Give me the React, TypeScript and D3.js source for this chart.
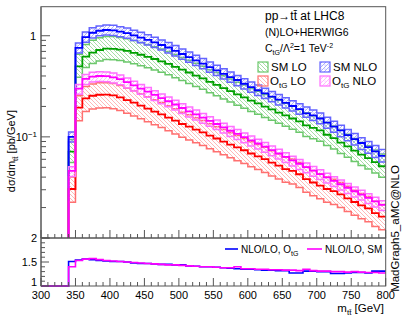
import React from 'react';
import * as d3 from 'd3';

// bin low edges (GeV), 10 GeV bins from 300 to 800
const binLow = [300,310,320,330,340,350,360,370,380,390,400,410,420,430,440,450,460,470,480,490,500,510,520,530,540,550,560,570,580,590,600,610,620,630,640,650,660,670,680,690,700,710,720,730,740,750,760,770,780,790];
const xMax = 800;

const smNlo = [0,0,0,0, 0.10,0.76,0.97,1.07,1.12,1.14,1.13,1.10,1.06,1.01, 0.96,0.91,0.86,0.81,0.765,0.71,0.66,0.615,0.57,0.53, 0.49,0.455,0.42,0.39,0.365,0.335,0.31,0.289,0.269,0.25, 0.233,0.217,0.202,0.188,0.171,0.163,0.152,0.138,0.126,0.116, 0.104,0.095,0.087,0.079,0.072,0.065];
const smNloHi = [0,0,0,0, 0.112,0.85,1.09,1.20,1.25,1.28,1.27,1.23,1.19,1.13, 1.08,1.02,0.965,0.91,0.855,0.80,0.74,0.69,0.64,0.595, 0.55,0.51,0.472,0.438,0.404,0.376,0.348,0.325,0.302,0.281, 0.262,0.244,0.227,0.212,0.197,0.184,0.172,0.156,0.143,0.13, 0.118,0.108,0.098,0.09,0.082,0.075];
const smNloLo = [0,0,0,0, 0.089,0.676,0.863,0.952,0.997,1.015,1.006,0.979,0.943,0.899, 0.854,0.81,0.765,0.721,0.676,0.632,0.587,0.547,0.507,0.472, 0.436,0.405,0.374,0.347,0.32,0.298,0.276,0.257,0.239,0.2225, 0.207,0.193,0.18,0.167,0.156,0.145,0.135,0.122,0.111,0.1005, 0.0915,0.083,0.075,0.069,0.0625,0.0565];

const smLo = [0,0,0,0, 0.0714,0.497,0.622,0.682,0.723,0.745,0.743,0.728,0.707,0.678, 0.649,0.619,0.589,0.559,0.528,0.493,0.462,0.433,0.404,0.379, 0.35,0.327,0.304,0.283,0.263,0.246,0.228,0.214,0.199,0.187, 0.174,0.163,0.152,0.142,0.130,0.123,0.116,0.105,0.097,0.0877, 0.0806,0.0731,0.0667,0.0617,0.0563,0.0512];
const smLoHi = [0,0,0,0, 0.094,0.656,0.821,0.90,0.954,0.983,0.981,0.961,0.933,0.895, 0.857,0.817,0.777,0.738,0.697,0.651,0.61,0.572,0.533,0.50, 0.462,0.432,0.401,0.374,0.347,0.325,0.301,0.282,0.263,0.247, 0.23,0.215,0.201,0.187,0.172,0.162,0.153,0.139,0.128,0.116, 0.106,0.0965,0.088,0.0815,0.0743,0.0676];
const smLoLo = [0,0,0,0, 0.0557,0.388,0.485,0.532,0.564,0.581,0.58,0.568,0.551,0.529, 0.506,0.483,0.459,0.436,0.412,0.385,0.36,0.338,0.315,0.296, 0.273,0.255,0.237,0.221,0.205,0.192,0.178,0.167,0.155,0.146, 0.136,0.127,0.119,0.111,0.101,0.096,0.0905,0.082,0.0757,0.0684, 0.0629,0.057,0.052,0.0481,0.0439,0.0399];

const otgNlo = [0,0,0,0, 0.046,0.30,0.375,0.395,0.40,0.398,0.388,0.372,0.347,0.323, 0.30,0.28,0.26,0.242,0.225,0.209,0.193,0.179,0.167,0.155, 0.144,0.134,0.124,0.115,0.107,0.0995,0.0925,0.086,0.080,0.074, 0.0685,0.0633,0.0586,0.0542,0.0501,0.0464,0.0429,0.0397,0.0367,0.034, 0.0314,0.029,0.0269,0.0249,0.023,0.0213];
const otgNloHi = [0,0,0,0, 0.0506,0.33,0.413,0.435,0.44,0.438,0.427,0.409,0.382,0.355, 0.33,0.308,0.286,0.266,0.2475,0.23,0.212,0.197,0.184,0.1705, 0.158,0.147,0.136,0.1265,0.118,0.109,0.102,0.0946,0.088,0.0814, 0.0754,0.0696,0.0645,0.0596,0.0551,0.051,0.0472,0.0437,0.0404,0.0374, 0.0345,0.0319,0.0296,0.0274,0.0253,0.0234];
const otgNloLo = [0,0,0,0, 0.0405,0.264,0.33,0.348,0.352,0.35,0.341,0.327,0.305,0.284, 0.264,0.246,0.229,0.213,0.198,0.184,0.17,0.1575,0.147,0.136, 0.127,0.118,0.109,0.101,0.094,0.0876,0.0814,0.0757,0.0704,0.0651, 0.0603,0.0557,0.0516,0.0477,0.0441,0.0408,0.0378,0.0349,0.0323,0.0299, 0.0276,0.0255,0.0237,0.0219,0.0202,0.0187];

const otgLo = [0,0,0,0, 0.0305,0.195,0.240,0.255,0.261,0.262,0.257,0.246,0.231,0.218, 0.204,0.190,0.178,0.167,0.155,0.145,0.134,0.126,0.118,0.111, 0.103,0.0964,0.0899,0.0839,0.0787,0.0737,0.0685,0.0642,0.0602,0.0556, 0.0519,0.048,0.0461,0.0427,0.0382,0.0354,0.033,0.0305,0.0291,0.027, 0.0247,0.0227,0.021,0.0196,0.0176,0.0163];
const otgLoHi = [0,0,0,0, 0.040,0.255,0.314,0.334,0.342,0.343,0.337,0.322,0.303,0.286, 0.267,0.249,0.233,0.219,0.203,0.19,0.1755,0.165,0.1545,0.145, 0.135,0.126,0.118,0.11,0.103,0.0965,0.0897,0.0841,0.0789,0.0728, 0.068,0.0629,0.0604,0.0559,0.05,0.0464,0.0432,0.04,0.0381,0.0354, 0.0324,0.0297,0.0275,0.0257,0.0231,0.0214];
const otgLoLo = [0,0,0,0, 0.0226,0.144,0.178,0.189,0.193,0.194,0.19,0.182,0.171,0.161, 0.151,0.141,0.132,0.124,0.115,0.107,0.099,0.0932,0.0873,0.0821, 0.0762,0.0713,0.0665,0.0621,0.0582,0.0545,0.0507,0.0475,0.0445,0.0411, 0.0384,0.0355,0.0341,0.0316,0.0283,0.0262,0.0244,0.0226,0.0215,0.02, 0.0183,0.0168,0.0155,0.0145,0.013,0.0121];

const ratioOtg = [1,1,1,1, 1.51,1.54,1.56,1.55,1.53,1.52,1.51,1.51,1.50,1.48, 1.47,1.47,1.46,1.45,1.45,1.44,1.44,1.42,1.41,1.40, 1.40,1.39,1.38,1.37,1.36,1.35,1.35,1.34,1.33,1.33, 1.32,1.32,1.27,1.27,1.31,1.31,1.30,1.30,1.26,1.26, 1.27,1.28,1.28,1.27,1.31,1.31];
const ratioSm = [1,1,1,1, 1.40,1.53,1.56,1.57,1.55,1.53,1.52,1.51,1.50,1.49, 1.48,1.47,1.46,1.45,1.44,1.44,1.43,1.42,1.41,1.40, 1.40,1.39,1.38,1.38,1.40,1.36,1.36,1.35,1.35,1.34, 1.34,1.33,1.33,1.32,1.35,1.32,1.31,1.31,1.30,1.30, 1.29,1.30,1.29,1.28,1.28,1.27];

const xTicks = [300,350,400,450,500,550,600,650,700,750,800];
const ratioTicks = [1,1.5,2];

const W = 411, H = 318;
const FL = 41, FR = 385.7, FT = 6.7, FB = 238, RB = 286;
const FONT = "'Liberation Sans', Arial, Helvetica, sans-serif";

const series = [
  { key: 'smlo', c: smLo, hi: smLoHi, lo: smLoLo, line: '#00a000', edge: '#6cc86c', pat: 'patLOg' },
  { key: 'smnlo', c: smNlo, hi: smNloHi, lo: smNloLo, line: '#0000ff', edge: '#6464ff', pat: 'patNLOb' },
  { key: 'otglo', c: otgLo, hi: otgLoHi, lo: otgLoLo, line: '#ff0000', edge: '#ff7070', pat: 'patLOr' },
  { key: 'otgnlo', c: otgNlo, hi: otgNloHi, lo: otgNloLo, line: '#ff00ff', edge: '#ff70ff', pat: 'patNLOm' },
];

export default function App() {
  const edges = [...binLow, xMax];
  const x = d3.scaleLinear().domain([300, 800]).range([FL, FR]);
  const y = d3.scaleLog().domain([0.01, 1.937]).range([FB, FT]);
  const yr = d3.scaleLinear().domain([1, 2]).range([RB, FB]);
  const ym = (v: number) => (v > 0 ? y(v) : FB + 3);

  const stepPath = (vals: number[], ys: (v: number) => number) => {
    let d = `M${x(edges[0])},${ys(vals[0])}`;
    for (let i = 0; i < vals.length; i++) {
      d += `H${x(edges[i + 1])}`;
      if (i + 1 < vals.length) d += `V${ys(vals[i + 1])}`;
    }
    return d;
  };
  const bandPath = (hi: number[], lo: number[]) => {
    const n = hi.length;
    let d = `M${x(edges[0])},${ym(hi[0])}`;
    for (let i = 0; i < n; i++) {
      d += `H${x(edges[i + 1])}`;
      if (i + 1 < n) d += `V${ym(hi[i + 1])}`;
    }
    d += `V${ym(lo[n - 1])}`;
    for (let i = n - 1; i >= 0; i--) {
      d += `H${x(edges[i])}`;
      if (i > 0) d += `V${ym(lo[i - 1])}`;
    }
    return d + 'Z';
  };

  const xMinor = d3.range(300, 801, 10);
  const yMajor = [0.01, 0.1, 1];
  const yMinor: number[] = [];
  [0.01, 0.1, 1].forEach((dec) => {
    for (let k = 2; k <= 9; k++) if (dec * k < 1.937) yMinor.push(dec * k);
  });
  const rMinor = d3.range(1, 2.001, 0.1);
  const axisCol = '#555';

  const legendRow1 = 67, legendRow2 = 81;

  return (
    <svg width={W} height={H} style={{ position: 'absolute', left: 0, top: 0, background: '#fff' }} fontFamily={FONT}>
      <defs>
        <clipPath id="clipMain"><rect x={FL} y={FT} width={FR - FL} height={FB - FT} /></clipPath>
        <clipPath id="clipRatio"><rect x={FL} y={FB} width={FR - FL} height={RB - FB + 1} /></clipPath>
        <pattern id="patLOg" width="4" height="4" patternUnits="userSpaceOnUse">
          <path d="M-1,-1L5,5M-1,3L1,5M3,-1L5,1" stroke="#7fcf7f" strokeWidth="0.7" />
        </pattern>
        <pattern id="patLOr" width="4" height="4" patternUnits="userSpaceOnUse">
          <path d="M-1,-1L5,5M-1,3L1,5M3,-1L5,1" stroke="#ff9a9a" strokeWidth="0.7" />
        </pattern>
        <pattern id="patNLOb" width="4" height="4" patternUnits="userSpaceOnUse">
          <path d="M-1,5L5,-1M-1,1L1,-1M3,5L5,3" stroke="#8a8aff" strokeWidth="0.7" />
          <circle cx="1" cy="1" r="0.5" fill="#8a8aff" />
        </pattern>
        <pattern id="patNLOm" width="4" height="4" patternUnits="userSpaceOnUse">
          <path d="M-1,5L5,-1M-1,1L1,-1M3,5L5,3" stroke="#ff9aff" strokeWidth="0.7" />
          <circle cx="1" cy="1" r="0.5" fill="#ff9aff" />
        </pattern>
      </defs>

      {/* main histograms */}
      <g clipPath="url(#clipMain)">
        {series.map((s) => (
          <g key={s.key}>
            <path d={bandPath(s.hi, s.lo)} fill={`url(#${s.pat})`} stroke="none" />
            <path d={stepPath(s.hi, ym)} fill="none" stroke={s.edge} strokeWidth={1.5} />
            <path d={stepPath(s.lo, ym)} fill="none" stroke={s.edge} strokeWidth={1.5} />
            <path d={stepPath(s.c, ym)} fill="none" stroke={s.line} strokeWidth={1.8} />
          </g>
        ))}
      </g>

      {/* ratio histograms */}
      <g clipPath="url(#clipRatio)">
        <path d={stepPath(ratioOtg, yr)} fill="none" stroke="#0000ff" strokeWidth={1.6} />
        <path d={stepPath(ratioSm, yr)} fill="none" stroke="#ff00ff" strokeWidth={1.6} />
      </g>

      {/* frames */}
      <rect x={FL} y={FT} width={FR - FL} height={FB - FT} fill="none" stroke={axisCol} strokeWidth={1} />
      <rect x={FL} y={FB} width={FR - FL} height={RB - FB} fill="none" stroke={axisCol} strokeWidth={1} />
      <line x1={FL} x2={FL} y1={FT} y2={RB} stroke="#777" strokeWidth={1.6} />

      {/* main x ticks */}
      {xMinor.map((v) => {
        const major = v % 50 === 0;
        return (
          <g key={'xm' + v}>
            <line x1={x(v)} x2={x(v)} y1={FB} y2={FB - (major ? 8 : 4)} stroke={axisCol} strokeWidth={1} />
            <line x1={x(v)} x2={x(v)} y1={RB} y2={RB - (major ? 8 : 4)} stroke={axisCol} strokeWidth={1} />
          </g>
        );
      })}
      {/* main y ticks */}
      {yMajor.map((v) => (
        <line key={'ya' + v} x1={FL} x2={FL + 9} y1={y(v)} y2={y(v)} stroke={axisCol} strokeWidth={1} />
      ))}
      {yMinor.map((v) => (
        <line key={'yi' + v} x1={FL} x2={FL + 5} y1={y(v)} y2={y(v)} stroke={axisCol} strokeWidth={1} />
      ))}
      <text x={36} y={y(1) + 4} fontSize={11} textAnchor="end">1</text>
      <text x={37} y={y(0.1) + 4} fontSize={11} textAnchor="end">
        10<tspan dy={-4} fontSize={8}>−1</tspan>
      </text>

      {/* ratio y ticks */}
      {rMinor.map((v, i) => (
        <line key={'rm' + i} x1={FL} x2={FL + (i % 5 === 0 ? 8 : 4)} y1={yr(v)} y2={yr(v)} stroke={axisCol} strokeWidth={1} />
      ))}
      {ratioTicks.map((v) => (
        <text key={'rt' + v} x={37} y={yr(v) + (v === 1 ? 0.3 : 4)} fontSize={11} textAnchor="end">{String(v)}</text>
      ))}

      {/* x tick labels */}
      {xTicks.map((v) => (
        <text key={'xl' + v} x={x(v)} y={299} fontSize={11} textAnchor="middle">{v}</text>
      ))}
      <text x={384} y={312} fontSize={11.5} textAnchor="end">
        m<tspan dy={3} fontSize={8}>t</tspan><tspan fontSize={8}>t̄</tspan><tspan dy={-3}> [GeV]</tspan>
      </text>

      {/* y title */}
      <text transform="translate(15,110) rotate(-90)" fontSize={11} textAnchor="end">
        dσ/dm<tspan dy={3} fontSize={8}>tt̄</tspan><tspan dy={-3}> [pb/GeV]</tspan>
      </text>

      {/* side label */}
      <text transform="translate(398.5,228.5) rotate(-90)" fontSize={11.5} textAnchor="middle">MadGraph5_aMC@NLO</text>

      {/* header text */}
      <text x={265} y={20} fontSize={12}>pp→tt̄ at LHC8</text>
      <text x={265} y={36} fontSize={10.5}>(N)LO+HERWIG6</text>
      <text x={265} y={52} fontSize={10.5}>
        C<tspan dy={2.5} fontSize={7}>tG</tspan><tspan dy={-2.5}>/Λ</tspan><tspan dy={-4} fontSize={7}>2</tspan><tspan dy={4}>=1 TeV</tspan><tspan dy={-4} fontSize={7}>-2</tspan>
      </text>

      {/* legend */}
      <rect x={258} y={legendRow1 - 5} width={10} height={10} fill="url(#patLOg)" stroke="#6cc86c" strokeWidth={1.2} />
      <text x={271} y={legendRow1 + 4} fontSize={11.5}>SM LO</text>
      <rect x={320} y={legendRow1 - 5} width={10} height={10} fill="url(#patNLOb)" stroke="#6464ff" strokeWidth={1.2} />
      <text x={333} y={legendRow1 + 4} fontSize={11.5}>SM NLO</text>
      <rect x={258} y={legendRow2 - 5} width={10} height={10} fill="url(#patLOr)" stroke="#ff7070" strokeWidth={1.2} />
      <text x={270} y={legendRow2 + 4} fontSize={11.5}>O<tspan dy={3} fontSize={8}>tG</tspan><tspan dy={-3}> LO</tspan></text>
      <rect x={320} y={legendRow2 - 5} width={10} height={10} fill="url(#patNLOm)" stroke="#ff70ff" strokeWidth={1.2} />
      <text x={332} y={legendRow2 + 4} fontSize={11.5}>O<tspan dy={3} fontSize={8}>tG</tspan><tspan dy={-3}> NLO</tspan></text>

      {/* ratio legend */}
      <line x1={225} x2={238} y1={249} y2={249} stroke="#0000ff" strokeWidth={1.6} />
      <text x={241} y={253} fontSize={10}>NLO/LO, O<tspan dy={3} fontSize={7}>tG</tspan></text>
      <line x1={307} x2={322} y1={249} y2={249} stroke="#ff00ff" strokeWidth={1.6} />
      <text x={325} y={253} fontSize={10}>NLO/LO, SM</text>
    </svg>
  );
}
